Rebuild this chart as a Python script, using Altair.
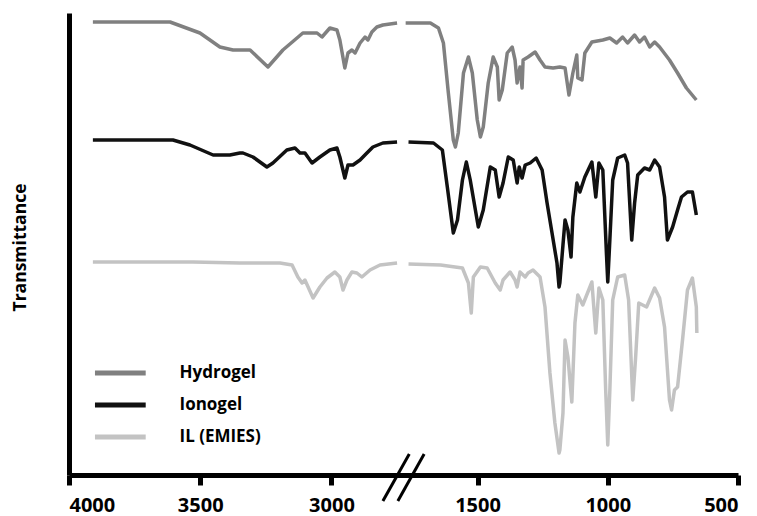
import altair as alt
import pandas as pd

# ---------------- data (wavenumber cm-1, transmittance a.u.) ----------------
series_names = ["Hydrogel", "Ionogel", "IL (EMIES)"]
series_colors = ["#808080", "#111111", "#c3c3c3"]

hyd_left_wn = [3909, 3615, 3501, 3425, 3375, 3310, 3242, 3185, 3109, 3055, 3036, 3006, 2979, 2968,
               2949, 2937, 2922, 2910, 2891, 2872, 2861, 2846, 2827, 2804, 2750]
hyd_left_t = [453, 453, 442, 428, 425, 425, 408, 425, 442, 442, 438, 447, 445, 435,
              407, 422, 425, 422, 432, 438, 435, 443, 448, 450, 452]
hyd_right_wn = [1776, 1681, 1650, 1631, 1612, 1593, 1585, 1574, 1554, 1535, 1520, 1501, 1489, 1478,
                1459, 1440, 1424, 1417, 1405, 1386, 1367, 1356, 1348, 1337, 1329, 1325, 1306, 1279,
                1260, 1241, 1210, 1184, 1164, 1149, 1134, 1119, 1115, 1099, 1088, 1061, 1019, 992,
                966, 943, 924, 897, 878, 859, 839, 820, 801, 763, 732, 698, 660]
hyd_right_t = [452, 452, 447, 432, 382, 335, 328, 342, 402, 418, 402, 355, 338, 348,
               392, 418, 408, 375, 385, 422, 428, 415, 392, 408, 387, 415, 418, 423,
               415, 408, 407, 408, 407, 380, 402, 420, 397, 395, 422, 433, 435, 437,
               432, 438, 432, 440, 433, 438, 428, 433, 428, 415, 402, 387, 375]

ion_left_wn = [3909, 3604, 3539, 3451, 3387, 3349, 3337, 3299, 3246, 3223, 3170, 3139, 3120, 3101,
               3074, 3044, 3006, 2979, 2968, 2949, 2937, 2918, 2891, 2865, 2842, 2804, 2750]
ion_left_t = [335, 335, 330, 320, 320, 322, 322, 318, 308, 312, 325, 327, 322, 322,
              312, 318, 325, 327, 318, 297, 310, 310, 315, 322, 328, 332, 333]
ion_right_wn = [1765, 1669, 1635, 1616, 1593, 1577, 1558, 1543, 1528, 1497, 1478, 1451, 1432, 1417,
                1402, 1382, 1363, 1348, 1340, 1329, 1317, 1298, 1275, 1252, 1233, 1214, 1195, 1187,
                1184, 1172, 1164, 1153, 1141, 1134, 1119, 1107, 1088, 1061, 1046, 1034, 1019, 1004,
                1000, 992, 981, 962, 935, 924, 908, 897, 885, 859, 839, 820, 801, 782, 771, 751,
                732, 717, 694, 675, 660]
ion_right_t = [333, 332, 325, 288, 242, 255, 295, 313, 295, 248, 265, 308, 305, 278,
               292, 318, 315, 292, 308, 297, 310, 312, 317, 305, 272, 242, 212, 188,
               192, 230, 255, 245, 218, 258, 292, 283, 298, 313, 278, 312, 305, 215,
               193, 235, 295, 317, 320, 312, 235, 272, 300, 307, 305, 315, 308, 278, 235, 248,
               265, 278, 283, 283, 260]

il_left_wn = [3909, 3528, 3349, 3196, 3150, 3128, 3112, 3101, 3070, 3044, 3017, 2987, 2968, 2956,
              2941, 2922, 2903, 2884, 2853, 2815, 2750]
il_left_t = [213, 213, 212, 212, 210, 198, 192, 195, 177, 188, 197, 203, 198, 185,
             195, 203, 202, 198, 205, 210, 212]
il_right_wn = [1765, 1642, 1558, 1535, 1524, 1516, 1489, 1463, 1432, 1413, 1402, 1375, 1356, 1348,
               1337, 1317, 1306, 1287, 1260, 1241, 1222, 1203, 1187, 1184, 1172, 1164, 1153, 1138,
               1126, 1115, 1096, 1061, 1046, 1034, 1019, 1008, 1000, 992, 981, 962, 935, 920,
               904, 893, 881, 851, 820, 801, 782, 763, 755, 744, 732, 713, 694, 675, 660, 658]
il_right_t = [211, 210, 207, 192, 162, 198, 208, 207, 192, 185, 195, 203, 195, 188,
              203, 198, 202, 205, 198, 168, 102, 52, 22, 25, 62, 135, 118, 73,
              152, 180, 170, 193, 142, 187, 175, 85, 30, 85, 175, 198, 200, 175,
              75, 118, 172, 168, 187, 177, 148, 75, 65, 85, 88, 135, 185, 197, 168, 142]

# axis break slashes (drawn in data space)
brk_wn = [2804, 2747]
brk_t = [-26, -26]
brk_wn2 = [1762, 1705]
brk_t2 = [21, 21]

tick_values = [4000, 3500, 3000, 1500, 1000, 500]

# ---------------- build table ----------------
rows = []
segs = [
    ("Hydrogel", "L", hyd_left_wn, hyd_left_t), ("Hydrogel", "R", hyd_right_wn, hyd_right_t),
    ("Ionogel", "L", ion_left_wn, ion_left_t), ("Ionogel", "R", ion_right_wn, ion_right_t),
    ("IL (EMIES)", "L", il_left_wn, il_left_t), ("IL (EMIES)", "R", il_right_wn, il_right_t),
]
for name, seg, wn, t in segs:
    for i, (w, v) in enumerate(zip(wn, t)):
        rows.append({"wn": w, "T": v, "series": name, "seg": name + seg, "idx": i})
df = pd.DataFrame(rows)

brk = pd.DataFrame({"wn": brk_wn, "T": brk_t, "wn2": brk_wn2, "T2": brk_t2})

xscale = alt.Scale(domain=[4000, 2735, 1790, 500], range=[0, 332, 333, 669], zero=False, nice=False)
yscale = alt.Scale(domain=[0, 462], zero=False, nice=False)

lines = alt.Chart(df).mark_line(strokeWidth=3.5, strokeJoin="round", strokeCap="butt").encode(
    x=alt.X("wn:Q", scale=xscale,
            axis=alt.Axis(values=tick_values, title=None, grid=False, format="d",
                          domainColor="black", domainWidth=5, tickColor="black",
                          tickWidth=5, tickSize=10, labelPadding=10,
                          labelFont="Open Sans", labelFontWeight="bold", labelFontSize=20,
                          labelColor="black")),
    y=alt.Y("T:Q", scale=yscale,
            axis=alt.Axis(title="Transmittance", labels=False, ticks=False, grid=False,
                          domainColor="black", domainWidth=5,
                          titleFont="Open Sans", titleFontWeight="bold", titleFontSize=17.5,
                          titleColor="black", titleX=-49, titleY=234, titleAngle=-90,
                          titleBaseline="middle", titleAlign="center")),
    color=alt.Color("series:N", scale=alt.Scale(domain=series_names, range=series_colors),
                    legend=alt.Legend(title=None, orient="none", legendX=30.5, legendY=338.5,
                                      symbolType="M-1.37,0L1.3,0", symbolSize=1444,
                                      symbolStrokeWidth=5,
                                      labelFont="Open Sans", labelFontWeight="bold",
                                      labelFontSize=17, labelColor="black", labelOffset=37,
                                      rowPadding=0, padding=0)),
    detail="seg:N",
    order="idx:Q",
)

breaks = alt.Chart(brk).mark_rule(strokeWidth=3, color="black").encode(
    x="wn:Q", y="T:Q", x2="wn2:Q", y2="T2:Q"
)

chart = alt.layer(lines, breaks).properties(
    width=669, height=462,
    autosize=alt.AutoSizeParams(type="none"),
    padding={"left": 61, "top": 5, "right": 10, "bottom": 42},
).configure_view(stroke=None)

chart.save("out.html", embed_options={"renderer": "svg", "actions": False})
